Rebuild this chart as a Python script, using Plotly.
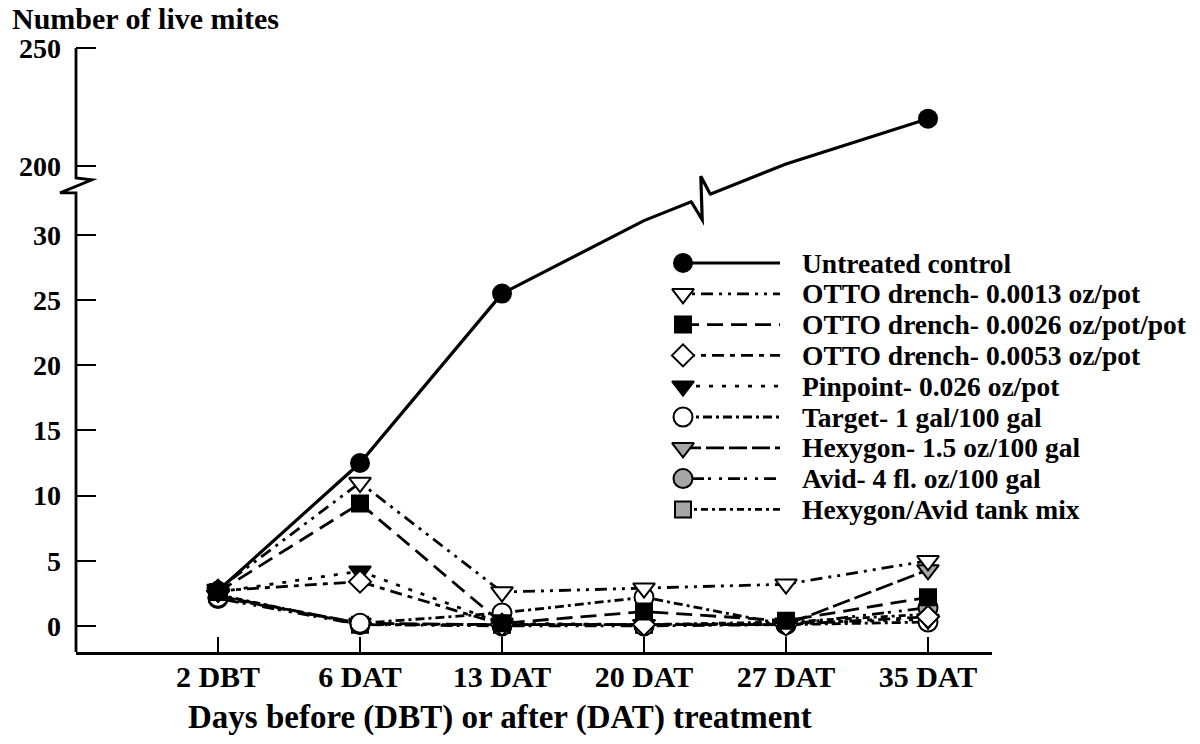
import plotly.graph_objects as go

# ---------------- data ----------------
categories = ["2 DBT", "6 DAT", "13 DAT", "20 DAT", "27 DAT", "35 DAT"]

untreated = [2.7, 12.5, 25.5, 31.1, 200.8, 220.0]
untreated_marked = [True, True, True, False, False, True]
otto_0013 = [2.8, 11.0, 2.6, 2.9, 3.2, 5.0]
otto_0026 = [2.6, 9.4, 0.2, 1.1, 0.4, 2.2]
otto_0053 = [2.7, 3.4, 0.1, 0.1, 0.1, 0.7]
pinpoint = [2.6, 4.2, 0.2, 0.1, 0.2, 0.5]
target = [2.2, 0.2, 1.0, 2.2, 0.1, 0.3]
hexygon = [2.3, 0.2, 0.1, 0.1, 0.1, 4.3]
avid = [2.1, 0.1, 0.0, 0.0, 0.1, 1.4]
tank_mix = [2.4, 0.1, 0.1, 0.1, 0.3, 0.9]

y_ticks_low = [0, 5, 10, 15, 20, 25, 30]
y_ticks_high = [200, 250]

series_names = [
    "Untreated control",
    "OTTO drench- 0.0013 oz/pot",
    "OTTO drench- 0.0026 oz/pot/pot",
    "OTTO drench- 0.0053 oz/pot",
    "Pinpoint- 0.026 oz/pot",
    "Target- 1 gal/100 gal",
    "Hexygon- 1.5 oz/100 gal",
    "Avid- 4 fl. oz/100 gal",
    "Hexygon/Avid tank mix",
]
series_values = [untreated, otto_0013, otto_0026, otto_0053, pinpoint,
                 target, hexygon, avid, tank_mix]

# ---------------- styles ----------------
GREY = "#a6a6a6"
styles = [
    dict(symbol="circle", size=20, fill="black", dash="solid"),
    dict(symbol="triangle-down", size=19, fill="white", dash="3px,6px,3px,6px,12px,6px"),
    dict(symbol="square", size=16, fill="black", dash="16px,8px"),
    dict(symbol="diamond", size=17, fill="white", dash="12px,6px,5px,6px"),
    dict(symbol="triangle-down", size=19, fill="black", dash="4px,9px"),
    dict(symbol="circle", size=19, fill="white", dash="9px,4px,3px,4px"),
    dict(symbol="triangle-down", size=19, fill=GREY, dash="18px,5px"),
    dict(symbol="circle", size=19, fill=GREY, dash="3px,6px,12px,4px,3px,8px"),
    dict(symbol="square", size=16, fill=GREY, dash="7px,4px,3px,4px"),
]

FONT = "Liberation Serif"

# broken-axis mapping (lower panel linear 0..~33, upper panel 200..250)
LOW_MAX = 34.0
HIGH_BASE = 200.0
HIGH_BASE_POS = 35.30
HIGH_SCALE = 0.1811


def fy(v):
    if v is None:
        return None
    return v if v <= LOW_MAX else HIGH_BASE_POS + (v - HIGH_BASE) * HIGH_SCALE


# geometry
W, H = 1200, 744
ML, MR, MT, MB = 76, 208, 46, 92
Y0, Y1 = -2.0, 44.5
X0 = -1.0
X1 = X0 + (W - ML - MR) / 142.0
xs = list(range(len(categories)))


def px_x(px):
    return (px - ML) / (W - ML - MR)


def px_y(py):
    return (H - MB - py) / (H - MB - MT)


def val_y(v):
    return (v - Y0) / (Y1 - Y0)


fig = go.Figure()

order = [8, 7, 6, 5, 4, 3, 2, 1, 0]
for i in order:
    st = styles[i]
    vals = [fy(v) for v in series_values[i]]
    if i == 0:
        sizes = [st["size"] if m else 0 for m in untreated_marked]
    else:
        sizes = [st["size"]] * len(vals)
    fig.add_trace(go.Scatter(
        x=xs, y=vals, mode="lines+markers", name=series_names[i],
        showlegend=False, cliponaxis=False,
        line=dict(color="black", width=3.2 if i == 0 else 2.8, dash=st["dash"]),
        marker=dict(symbol=st["symbol"], size=sizes, color=st["fill"], opacity=1,
                    line=dict(color="black", width=2 if i != 0 else 0)),
        xaxis="x", yaxis="y",
    ))

# ---------------- manual legend on overlay pixel axes ----------------
LEG_Y0 = 263
LEG_DY = 30.8
LEG_MX = 683
LEG_LX1 = 780
LEG_TX = 800
for i, name in enumerate(series_names):
    st = styles[i]
    yy = LEG_Y0 + LEG_DY * i
    fig.add_trace(go.Scatter(
        x=[LEG_MX, LEG_LX1], y=[yy, yy], mode="lines", showlegend=False,
        line=dict(color="black", width=3.2 if i == 0 else 2.8, dash=st["dash"]),
        xaxis="x2", yaxis="y2", hoverinfo="skip",
    ))
    fig.add_trace(go.Scatter(
        x=[LEG_MX], y=[yy], mode="markers", showlegend=False,
        marker=dict(symbol=st["symbol"], size=st["size"], color=st["fill"], opacity=1,
                    line=dict(color="black", width=2 if i != 0 else 0)),
        xaxis="x2", yaxis="y2", hoverinfo="skip",
    ))
    fig.add_annotation(
        x=LEG_TX, y=yy, xref="x2", yref="y2", text=name, showarrow=False,
        xanchor="left", yanchor="middle",
        font=dict(family=FONT, size=27.5, color="black", weight="bold"),
    )

# ---------------- shapes: broken y axis ----------------
low_top = 33.23
high_bottom = 34.38
top_val = fy(250)
path = (
    f"M {px_x(76)},{val_y(top_val)} "
    f"L {px_x(76)},{val_y(high_bottom)} "
    f"L {px_x(92)},{val_y(high_bottom - 0.15)} "
    f"L {px_x(60)},{val_y(low_top)} "
    f"L {px_x(76)},{val_y(low_top)} "
    f"L {px_x(76)},{val_y(Y0)}"
)
fig.add_shape(type="path", path=path, xref="paper", yref="paper",
              line=dict(color="black", width=2.8), layer="above")

# break marker on the control line (between 20 DAT and 27 DAT)
bx = 3.4
ya = fy(untreated[3])
yb = fy(untreated[4])


def ctrl_y(x):
    return ya + (yb - ya) * (x - 3) / 1.0


hw = 9.5 / 142.0
p1x, p4x = bx - hw, bx + hw
p1y, p4y = ctrl_y(p1x), ctrl_y(p4x)
fig.add_shape(type="rect", x0=p1x + 0.005, x1=p4x - 0.005,
              y0=p1y - 0.45, y1=p4y + 0.45, xref="x", yref="y",
              fillcolor="white", line=dict(width=0), layer="above")
zig = (f"M {p1x},{p1y} L {bx + 0.01},{p1y - 18 / 13.03} "
       f"L {bx},{p4y + 18 / 13.03} L {p4x},{p4y}")
fig.add_shape(type="path", path=zig, xref="x", yref="y",
              line=dict(color="black", width=3.2), layer="above")

# ---------------- titles ----------------
fig.add_annotation(x=px_x(10), y=px_y(18), xref="paper", yref="paper",
                   text="Number of live mites", showarrow=False,
                   xanchor="left", yanchor="middle",
                   font=dict(family=FONT, size=30, color="black", weight="bold"))
fig.add_annotation(x=px_x(500), y=px_y(717), xref="paper", yref="paper",
                   text="Days before (DBT) or after (DAT) treatment", showarrow=False,
                   xanchor="center", yanchor="middle",
                   font=dict(family=FONT, size=33, color="black", weight="bold"))

tickvals = [fy(v) for v in y_ticks_low + y_ticks_high]
ticktext = [str(v) for v in y_ticks_low + y_ticks_high]

fig.update_layout(
    width=W, height=H, autosize=False,
    margin=dict(l=ML, r=MR, t=MT, b=MB, autoexpand=False),
    paper_bgcolor="white", plot_bgcolor="white",
    showlegend=False,
    xaxis=dict(
        range=[X0, X1], tickvals=xs, ticktext=categories, automargin=False,
        showgrid=False, zeroline=False, showline=True, linecolor="black",
        linewidth=2.8, ticks="inside", ticklen=15, tickwidth=2, tickcolor="black",
        tickfont=dict(family=FONT, size=30, color="black", weight="bold"),
        ticklabelstandoff=-4,
    ),
    yaxis=dict(
        range=[Y0, Y1], tickvals=tickvals, ticktext=ticktext, automargin=False,
        showgrid=False, zeroline=False, showline=False,
        ticks="inside", ticklen=20, tickwidth=2, tickcolor="black",
        tickfont=dict(family=FONT, size=28, color="black", weight="bold"),
        ticklabelstandoff=14,
    ),
    xaxis2=dict(range=[ML, W - MR], overlaying="x", visible=False, anchor="y2"),
    yaxis2=dict(range=[H - MB, MT], overlaying="y", visible=False, anchor="x2"),
)

fig.write_html("out.html")
